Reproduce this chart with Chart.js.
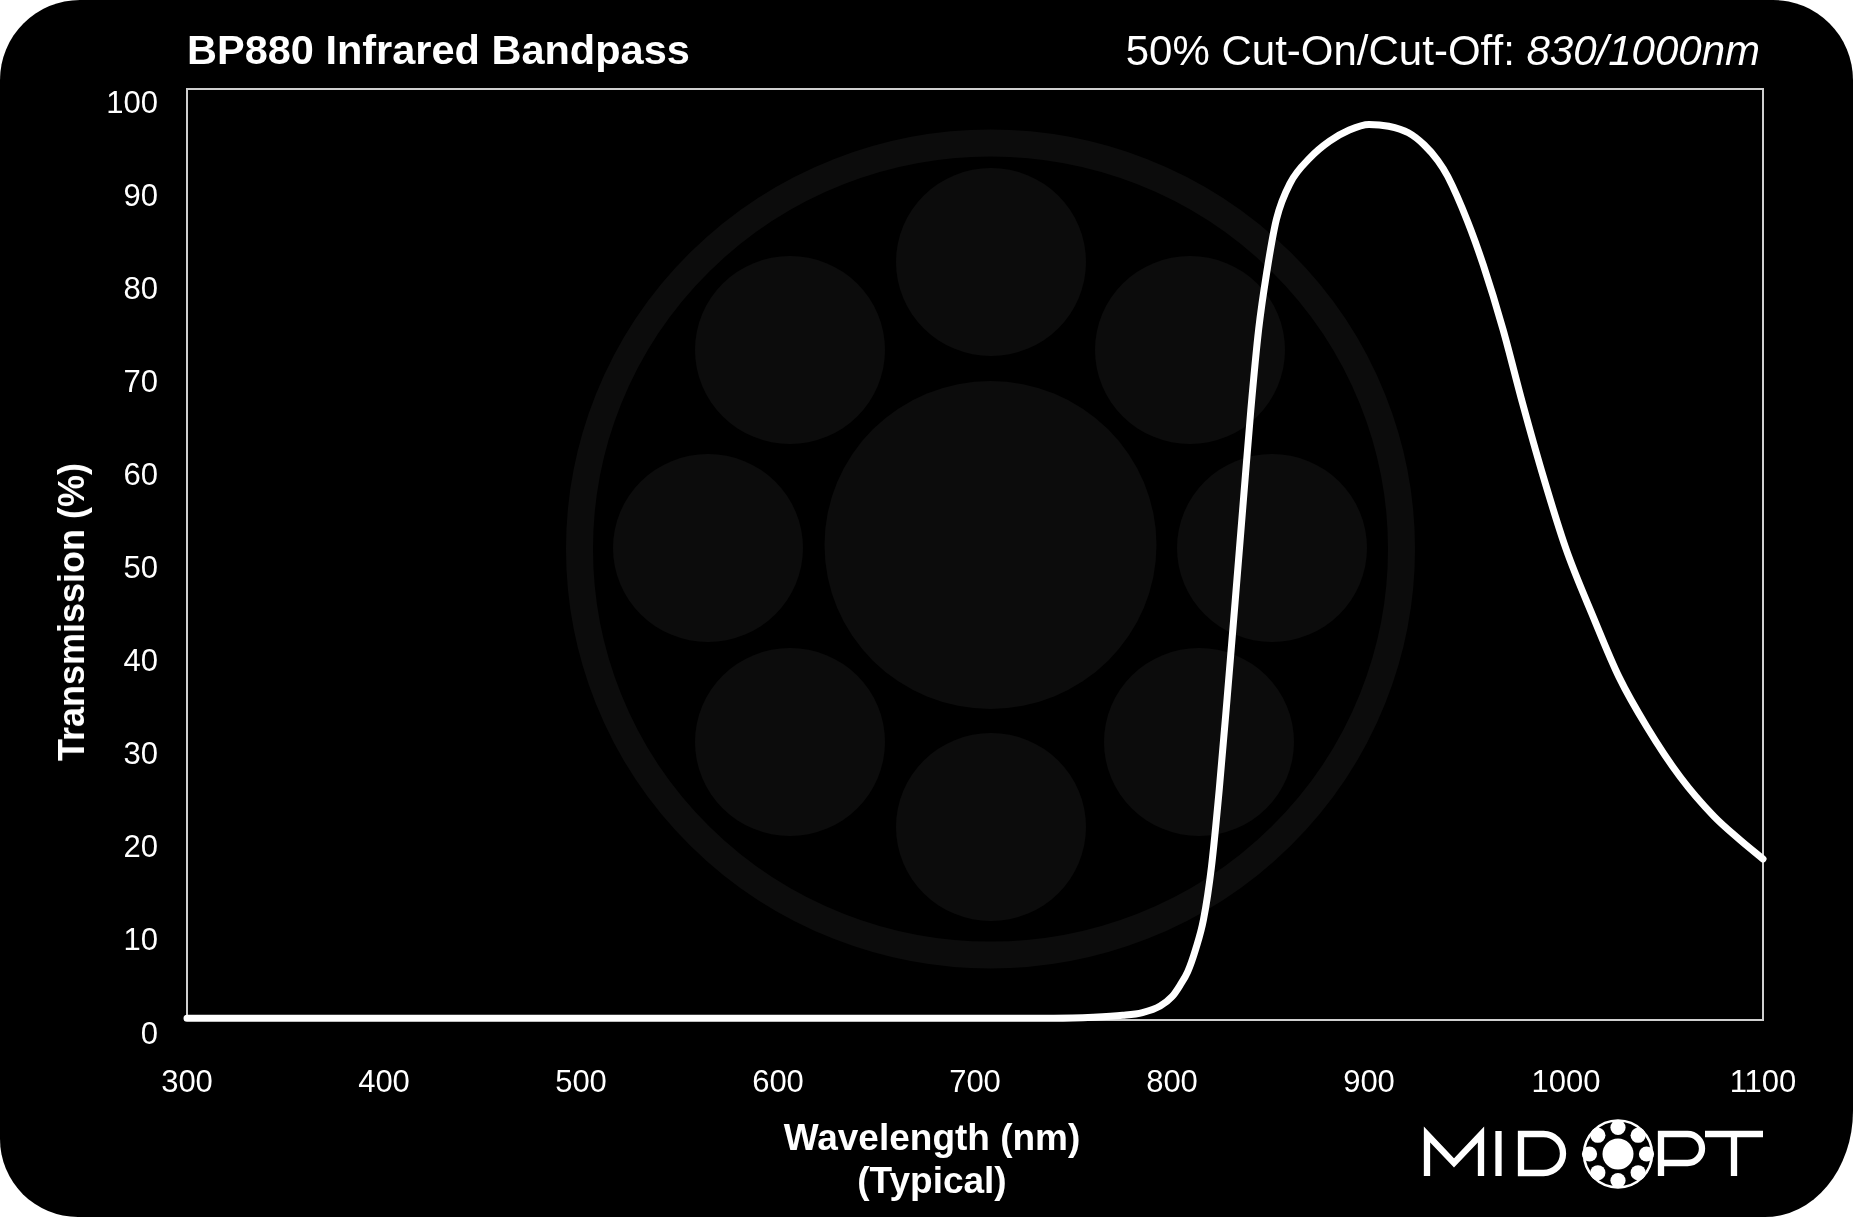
<!DOCTYPE html>
<html>
<head>
<meta charset="utf-8">
<script src="https://cdn.jsdelivr.net/npm/chart.js@4.4.1/dist/chart.umd.min.js"></script>
<style>
  html, body { margin: 0; padding: 0; background: #ffffff; }
  #card {
    position: relative;
    width: 1853px;
    height: 1217px;
    background: #000000;
    border-radius: 80px 80px 88px 78px / 80px 80px 106px 78px;
    overflow: hidden;
    font-family: 'Liberation Sans', Arial, sans-serif;
    color: #ffffff;
  }
  #chartBox { position: absolute; left: 0; top: 0; width: 1853px; height: 1217px; }
  .txt { position: absolute; white-space: nowrap; line-height: 1; }
  #title { left: 187px; top: 29px; font-size: 41.5px; font-weight: bold; }
  #sub { right: 93px; top: 30px; font-size: 42px; }
  #ytitle {
    left: 72px; top: 612px; font-size: 36px; font-weight: bold;
    transform: translate(-50%, -50%) rotate(-90deg);
  }
  #xtitle {
    left: 932px; top: 1116px; font-size: 37px; font-weight: bold;
    transform: translateX(-50%); text-align: center; line-height: 43px;
  }
  #logo { position: absolute; left: 0; top: 0; }
</style>
</head>
<body>
<div id="card">
  <div id="chartBox"><canvas id="chart"></canvas></div>
  <div class="txt" id="title">BP880 Infrared Bandpass</div>
  <div class="txt" id="sub">50% Cut-On/Cut-Off: <i>830/1000nm</i></div>
  <div class="txt" id="ytitle">Transmission (%)</div>
  <div class="txt" id="xtitle">Wavelength (nm)<br>(Typical)</div>
  <svg id="logo" width="1853" height="1217">
    <g fill="none" stroke="#ffffff" stroke-width="6.3">
      <path d="M1427,1176 V1134.5 L1454,1163 L1481,1134.5 V1176" stroke-linejoin="miter"/>
      <path d="M1498.5,1131 V1176"/>
      <path d="M1521,1134 H1543.5 A19.5,19.5 0 0 1 1543.5,1173 H1521 Z"/>
      <path d="M1661,1176 V1134 H1687.5 A14.5,14.5 0 0 1 1687.5,1163 H1661"/>
      <path d="M1705,1134 H1763 M1734,1134 V1176"/>
    </g>
    <g id="logoDots" fill="#ffffff"></g>
    <ellipse cx="1618" cy="1154" rx="34" ry="33.5" fill="none" stroke="#ffffff" stroke-width="2.6"/>
  </svg>
</div>
<script>
document.addEventListener('DOMContentLoaded', () => {
    // Curve (nm, % transmission)
    const wavelengths = [300, 400, 500, 600, 700, 740, 760, 775, 785, 794,
        800, 804, 808, 812, 816, 820, 824, 828, 832, 836,
        840, 844, 848, 853, 860, 870, 880, 890, 900, 910,
        920, 928, 935, 940, 950, 958, 968, 978, 988, 1000,
        1014, 1027, 1041, 1058, 1075, 1088, 1100];
    const transmission = [0.2, 0.2, 0.2, 0.2, 0.2, 0.2, 0.3, 0.5, 0.8, 1.5,
        2.5, 3.7, 5.2, 7.6, 10.8, 16.4, 24.8, 34.6, 44.8, 55.2,
        65.5, 74.2, 80.2, 86.0, 89.9, 92.6, 94.4, 95.6, 96.2, 96.0,
        95.3, 94.0, 92.3, 90.6, 85.8, 81.1, 74.2, 66.2, 58.7, 50.6,
        43.2, 36.8, 31.5, 26.1, 21.9, 19.4, 17.3];
    const xRange = [300, 1100];
    const yRange = [0, 100];

    // dots of the small logo next to the lettering
    const dots = document.getElementById('logoDots');
    const addDot = (cx, cy, r) => {
        const c = document.createElementNS('http://www.w3.org/2000/svg', 'circle');
        c.setAttribute('cx', cx); c.setAttribute('cy', cy); c.setAttribute('r', r);
        dots.appendChild(c);
    };
    addDot(1618, 1154, 15.5);
    for (let i = 0; i < 8; i++) {
        const a = i * Math.PI / 4;
        addDot(1618 + 28.5 * Math.cos(a), 1154 + 26.5 * Math.sin(a), 7.6);
    }

    // faint logo watermark behind the plot
    const watermark = {
        id: 'watermark',
        beforeDraw(chart) {
            const c = chart.ctx;
            c.save();
            c.fillStyle = '#0c0c0c';
            c.strokeStyle = '#0c0c0c';
            c.lineWidth = 27;
            c.beginPath();
            c.ellipse(990.5, 549, 411, 406, 0, 0, Math.PI * 2);
            c.stroke();
            c.beginPath();
            c.ellipse(990.5, 545, 166, 164, 0, 0, Math.PI * 2);
            c.fill();
            const small = [[991, 262], [790, 350], [1190, 350], [708, 548],
                [1272, 548], [790, 742], [1199, 742], [991, 827]];
            small.forEach(([x, y]) => {
                c.beginPath();
                c.ellipse(x, y, 95, 94, 0, 0, Math.PI * 2);
                c.fill();
            });
            c.restore();
        }
    };

    // plot frame
    const frame = {
        id: 'frame',
        beforeDatasetsDraw(chart) {
            const a = chart.chartArea;
            const c = chart.ctx;
            c.save();
            c.strokeStyle = '#cfcfcf';
            c.lineWidth = 2;
            c.strokeRect(a.left, a.top, a.right - a.left, a.bottom - a.top);
            c.restore();
        }
    };

    Chart.defaults.font.family = "'Liberation Sans', Arial, sans-serif";
    Chart.defaults.color = '#ffffff';

    const ctx = document.getElementById('chart').getContext('2d');
    new Chart(ctx, {
        type: 'line',
        data: {
            datasets: [{
                data: wavelengths.map((w, i) => ({ x: w, y: transmission[i] })),
                borderColor: '#ffffff',
                borderWidth: 7,
                borderCapStyle: 'round',
                borderJoinStyle: 'round',
                pointRadius: 0,
                cubicInterpolationMode: 'monotone',
                fill: false,
                clip: false
            }]
        },
        options: {
            responsive: true,
            maintainAspectRatio: false,
            animation: false,
            layout: { padding: { top: 89, right: 90, bottom: 0, left: 0 } },
            plugins: {
                legend: { display: false },
                tooltip: { enabled: false }
            },
            scales: {
                x: {
                    type: 'linear',
                    min: xRange[0],
                    max: xRange[1],
                    grid: { display: false, drawTicks: false },
                    border: { display: false },
                    ticks: {
                        stepSize: 100,
                        padding: 45,
                        color: '#ffffff',
                        font: { size: 31 },
                        maxRotation: 0,
                        callback: v => String(v)
                    },
                    afterFit(scale) { scale.height = 197; }
                },
                y: {
                    min: yRange[0],
                    max: yRange[1],
                    grid: { display: false, drawTicks: false },
                    border: { display: false },
                    ticks: {
                        stepSize: 10,
                        padding: 29,
                        labelOffset: 15,
                        color: '#ffffff',
                        font: { size: 31 },
                        callback: v => String(v)
                    },
                    afterFit(scale) { scale.width = 187; }
                }
            }
        },
        plugins: [watermark, frame]
    });
});
</script>
</body>
</html>
